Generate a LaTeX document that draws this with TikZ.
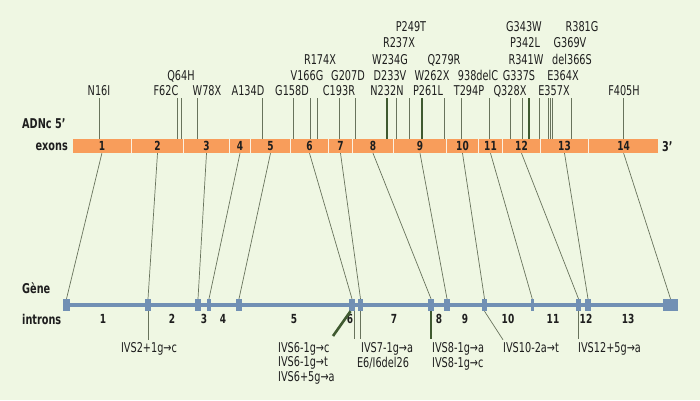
\documentclass[tikz,border=0pt]{standalone}
\usepackage{fontspec}
\setmainfont{DejaVu Sans}[FakeStretch=0.72]
\definecolor{bg}{HTML}{EFF7E3}
\definecolor{exonc}{HTML}{F89D5B}
\definecolor{sepc}{HTML}{FBF1E2}
\definecolor{genec}{HTML}{7190B4}
\definecolor{tickc}{HTML}{68735C}
\definecolor{heavyc}{HTML}{3F5A30}
\definecolor{txt}{HTML}{1E1E1E}
\begin{document}
\begin{tikzpicture}[x=1pt,y=-1pt,
  mut/.style={font=\fontsize{13.5}{14}\selectfont, text=txt, inner sep=0pt, anchor=base},
  lbl/.style={font=\bfseries\fontsize{13.5}{14}\selectfont, text=txt, inner sep=0pt, anchor=base west},
  num/.style={font=\bfseries\fontsize{12.5}{13}\selectfont, text=txt, inner sep=0pt, anchor=base},
  exonbox/.style={fill=exonc, inner sep=0pt, minimum height=14pt, font=\bfseries\fontsize{12.5}{13}\selectfont, text=txt},
  genebox/.style={fill=genec, inner sep=0pt, minimum height=12pt},
  tickline/.style={draw=tickc, line width=0.8pt},
  heavyline/.style={draw=heavyc, line width=2.6pt},
  conn/.style={draw=tickc, line width=0.7pt}
]
\useasboundingbox[fill=bg] (0,0) rectangle (700,400);

% side labels
\node[lbl] (adnc) at (22,128.5) {ADNc 5’};
\node[lbl, anchor=base east] (exons) at (68,150.5) {exons};
\node[lbl] (three) at (662,151.5) {3’};
\node[lbl] (gene) at (22,293) {Gène};
\node[lbl] (introns) at (22,324) {introns};

% exon bar (cDNA)
\fill[sepc] (73,139) rectangle (658,153);
\foreach \n/\a/\b in {1/73/130.8, 2/132.2/182.8, 3/184.2/228.8, 4/230.2/249.8, 5/251.2/289.8,
  6/291.2/327.8, 7/329.2/351.8, 8/353.2/392.8, 9/394.2/445.8, 10/447.2/477.8,
  11/479.2/501.8, 12/503.2/539.8, 13/541.2/587.8, 14/589.2/658} {
  \pgfmathsetmacro\w{\b-\a}
  \pgfmathsetmacro\c{(\a+\b)/2}
  \node[exonbox, minimum width=\w pt] (e\n) at (\c,146) {\n};
}

% mutation ticks
\foreach \x in {99,177,181,197,262,293,310,317,339,355,396,409,444,461,489,510,522,539,571,623}
  \draw[tickline] (\x,98) -- (\x,139);
\foreach \x in {548,550,552}
  \draw[draw=tickc, line width=0.5pt] (\x,98) -- (\x,139);
\foreach \x in {387,422,529}
  \draw[draw=heavyc, line width=2.2pt] (\x,98) -- (\x,139);

% mutation labels
\foreach \t/\x [count=\i] in {N16I/99, F62C/166, W78X/207, A134D/248, G158D/292, C193R/339,
  N232N/387, P261L/428, T294P/469, Q328X/510, E357X/554, F405H/624}
  \node[mut] (ra\i) at (\x,95.6) {\t};
\foreach \t/\x [count=\i] in {Q64H/181, V166G/307, G207D/348, D233V/390, W262X/432,
  938delC/478, G337S/519, E364X/563}
  \node[mut] (rb\i) at (\x,80) {\t};
\foreach \t/\x [count=\i] in {R174X/320, W234G/390, Q279R/444, R341W/526, del366S/572}
  \node[mut] (rc\i) at (\x,64) {\t};
\foreach \t/\x [count=\i] in {R237X/399, P342L/525, G369V/570}
  \node[mut] (rd\i) at (\x,47.6) {\t};
\foreach \t/\x [count=\i] in {P249T/411, G343W/524, R381G/582}
  \node[mut] (re\i) at (\x,31.6) {\t};

% gene backbone
\coordinate (gstart) at (63,305);
\coordinate (gend) at (678,305);
\draw[genec, line width=3.4pt] (gstart) -- (gend);
\foreach \n/\a/\b in {1/63/70, 2/145/151, 3/195/201, 4/207/211, 5/236/242, 6/349/355,
  7/358/363, 8/428/434, 9/444/450, 10/482/487, 11/531/533.5, 12/576/581, 13/585/591, 14/663/678} {
  \pgfmathsetmacro\w{\b-\a}
  \pgfmathsetmacro\c{(\a+\b)/2}
  \node[genebox, minimum width=\w pt] (g\n) at (\c,305) {};
}

% exon to gene connectors
\foreach \n in {1,...,14}
  \draw[conn] (e\n.south) -- (g\n.north);

% intron numbers
\foreach \t/\x in {1/103, 2/172, 3/204, 4/223, 5/294, 6/350, 7/394, 8/439, 9/465,
  10/508, 11/553, 12/586, 13/628}
  \node[num] (n\t) at (\x,323.5) {\t};

% splice mutations
\node[mut] (ivs2) at (149,352) {IVS2+1g→c};
\node[mut, anchor=base west] (ivs6a) at (278,352) {IVS6-1g→c};
\node[mut, anchor=base west] (ivs6b) at (278,366.5) {IVS6-1g→t};
\node[mut, anchor=base west] (ivs6c) at (278,381) {IVS6+5g→a};
\node[mut] (e6i6) at (383,367) {E6/I6del26};
\node[mut, anchor=base west] (ivs7) at (361,352) {IVS7-1g→a};
\node[mut, anchor=base west] (ivs8a) at (432,352) {IVS8-1g→a};
\node[mut, anchor=base west] (ivs8b) at (432,367) {IVS8-1g→c};
\node[mut, anchor=base west] (ivs10) at (503,352) {IVS10-2a→t};
\node[mut, anchor=base west] (ivs12) at (578,352) {IVS12+5g→a};

\draw[conn] (g2.south) -- ([yshift=2pt]g2.south |- ivs2.north);
\coordinate (c6) at (333,336);
\draw[heavyline] ([xshift=-1.5pt]g6.south) -- (c6);
\draw[conn] ([xshift=2.5pt]g6.south) -- ([xshift=2.5pt,yshift=3pt]g6.south |- ivs7.north);
\draw[conn] (g7.south) -- ([yshift=3pt]g7.south |- ivs7.north);
\draw[heavyline] (g8.south) -- ([yshift=3pt]g8.south |- ivs8a.north);
\draw[conn] (g10.south) -- ([yshift=2pt]ivs10.north west);
\draw[conn] (g12.south) -- ([yshift=3pt]g12.south |- ivs12.north);
\end{tikzpicture}
\end{document}
